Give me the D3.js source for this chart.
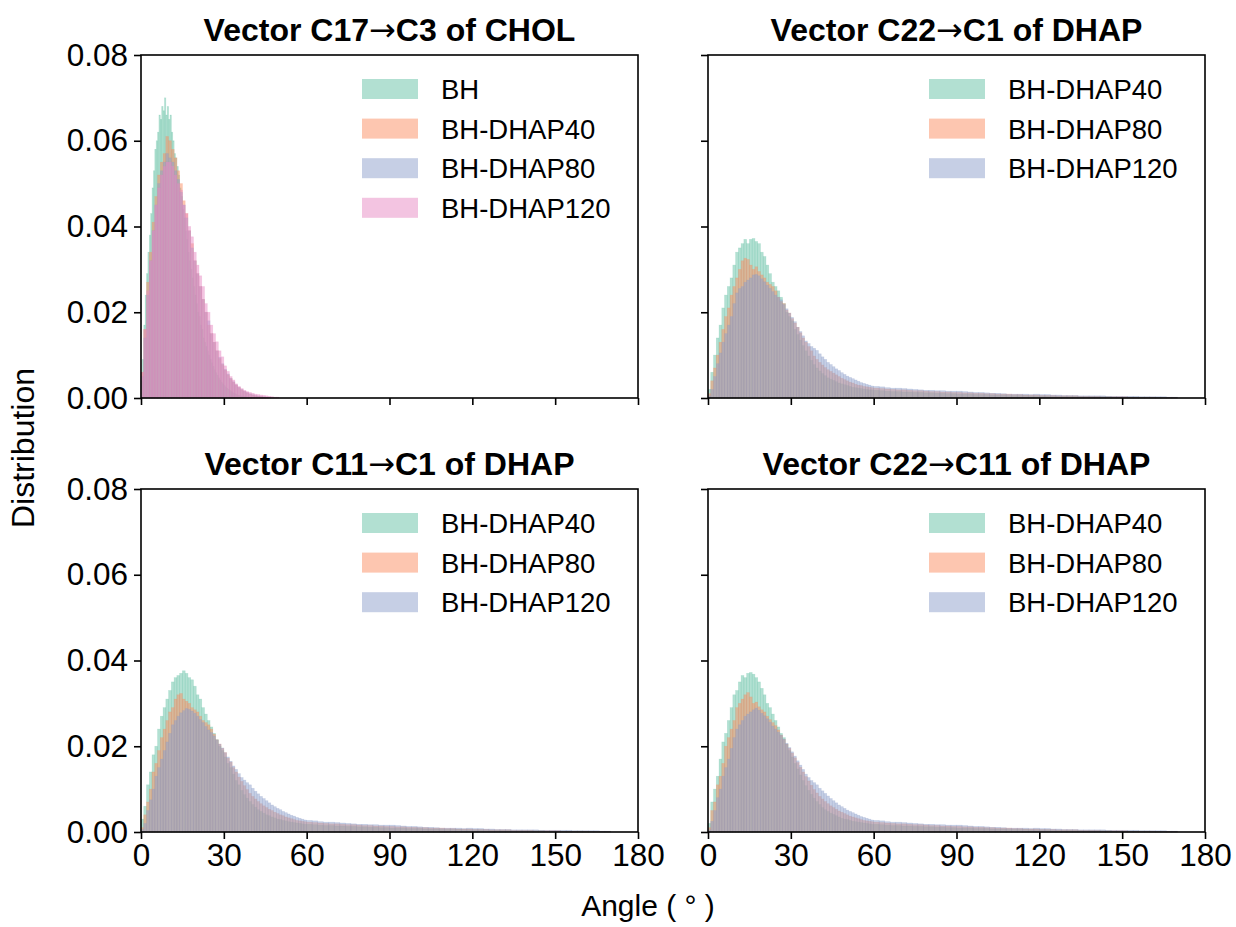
<!DOCTYPE html>
<html>
<head>
<meta charset="utf-8">
<script src="https://cdn.jsdelivr.net/npm/d3@7"></script>
<style>
body { margin: 0; background: #fff; }
text { font-family: "Liberation Sans", Arial, sans-serif; fill: #000; }
</style>
</head>
<body>
<svg id="chart" width="1236" height="927"></svg>
<script>
// ---- data ----
var xTicks = [0, 30, 60, 90, 120, 150, 180];
var yTicks = [0, 0.02, 0.04, 0.06, 0.08];
var cholLabels = ["BH", "BH-DHAP40", "BH-DHAP80", "BH-DHAP120"];
var dhapLabels = ["BH-DHAP40", "BH-DHAP80", "BH-DHAP120"];
// titles split round the arrow, so the arrow can use a font with a long one
var titleParts = [["Vector C17", "C3 of CHOL"], ["Vector C22", "C1 of DHAP"], ["Vector C11", "C1 of DHAP"], ["Vector C22", "C11 of DHAP"]];

// CHOL panel. BH uses 0.5 deg bins, the others 1 deg bins, all from 0
var cholBH = [.004,.009,.017,.024,.029,.034,.038,.043,.049,.053,.058,.060,.062,.066,.065,.068,.067,.070,.066,.068,
  .065,.066,.062,.060,.057,.056,.054,.052,.049,.047,.044,.042,.039,.037,.034,.032,.030,.028,.026,.024,
  .022,.020,.019,.017,.016,.014,.013,.012,.011,.010,.0090,.0082,.0074,.0066,.0059,.0053,.0047,.0042,.0037,.0033,
  .0029,.0026,.0023,.0020,.0018,.0015,.0013,.0011,.0010,.0008,.0007,.0006,.0005,.0004,.0003,.0003,.0002,.0002,.0001,.0001];
var cholDHAP40 = [.006,.016,.027,.034,.041,.047,.052,.055,.057,.061,.060,.058,.056,.053,.050,.046,.043,.039,.036,.032,
  .029,.026,.023,.020,.017,.015,.013,.011,.0092,.0078,.0065,.0054,.0045,.0037,.0030,.0024,.0019,.0015,.0012,.0009,
  .0007,.0005,.0004,.0003,.0002,.0001];
var cholDHAP80 = [.005,.014,.024,.032,.039,.045,.050,.053,.055,.057,.056,.055,.053,.051,.048,.045,.042,.039,.035,.032,
  .029,.026,.023,.020,.018,.015,.013,.011,.0095,.008,.0067,.0056,.0046,.0038,.0031,.0025,.002,.0016,.0013,.001,
  .0008,.0006,.0005,.0004,.0003,.0002,.0001];
var cholDHAP120 = [.006,.016,.025,.032,.039,.045,.049,.052,.054,.055,.055,.054,.052,.050,.0485,.045,.043,.040,.0376,.034,
  .031,.0285,.026,.022,.020,.017,.015,.0131,.011,.0096,.0075,.0062,.005,.0042,.0033,.0027,.0022,.0018,.0015,.0013,
  .0011,.0009,.0008,.0007,.0006,.0005,.0004,.0003,.0002,.0002];

// DHAP panels: 1 deg bins from 0 to 60 deg
var c22c1_40 = [.002,.006,.010,.014,.017,.021,.024,.026,.028,.031,.034,.035,.036,.037,.036,.037,.0372,.0365,.036,.034,
  .033,.031,.029,.027,.026,.025,.0235,.022,.020,.019,.018,.016,.0148,.0135,.0122,.011,.0098,.0088,.0078,.007,
  .0063,.0057,.0052,.0047,.0044,.0041,.0038,.0035,.0033,.0031,.0029,.0027,.0025,.0024,.0023,.0022,.0021,.002,.0019,.0019];
var c22c1_80 = [.001,.004,.007,.010,.013,.016,.019,.021,.024,.026,.028,.030,.032,.0326,.0323,.031,.030,.0306,.0295,.0287,
  .028,.027,.0265,.026,.025,.0235,.0225,.022,.0205,.0198,.0185,.0175,.0165,.0152,.014,.013,.012,.011,.0098,.009,
  .0083,.0077,.0071,.0066,.0062,.0058,.0054,.005,.0046,.0043,.004,.0037,.0035,.0032,.003,.0029,.0027,.0026,.0025,.0024];
var c22c1_120 = [.0005,.002,.005,.008,.0105,.013,.015,.017,.019,.022,.0245,.0255,.026,.027,.0275,.028,.0287,.0288,.0285,.0278,
  .0271,.0263,.0256,.0248,.024,.0235,.0229,.0218,.0208,.0198,.0188,.0178,.0165,.0155,.0145,.0133,.0127,.012,.0116,.0111,
  .0103,.0096,.009,.0083,.0078,.0073,.0068,.0064,.0059,.0055,.0051,.0048,.0045,.0042,.0039,.0036,.0034,.0032,.003,.0028];

var c11c1_40 = [.003,.006,.011,.014,.018,.020,.024,.027,.029,.031,.033,.035,.036,.0365,.037,.0376,.037,.036,.0355,.034,
  .032,.031,.029,.0275,.026,.0245,.023,.0215,.020,.019,.0175,.016,.015,.0135,.012,.011,.0097,.0087,.0079,.0071,
  .0064,.0058,.0052,.0048,.0044,.004,.0038,.0035,.0033,.003,.0029,.0027,.0026,.0024,.0023,.0022,.0021,.002,.0019,.0018];
var c11c1_80 = [.001,.004,.007,.010,.014,.016,.019,.022,.024,.026,.028,.029,.031,.032,.0323,.031,.0305,.030,.029,.0285,
  .028,.027,.026,.0255,.025,.024,.0228,.0215,.0205,.0195,.0185,.0172,.0163,.015,.014,.0128,.0118,.0108,.0099,.009,
  .0083,.0077,.0071,.0066,.0061,.0057,.0053,.005,.0046,.0043,.004,.0038,.0035,.0033,.0031,.0029,.0027,.0026,.0025,.0024];
var c11c1_120 = [.0006,.002,.005,.0075,.010,.013,.015,.017,.019,.021,.023,.025,.026,.027,.0278,.0283,.0288,.0286,.0282,.0277,
  .027,.0262,.0255,.0246,.0238,.0232,.0224,.0215,.0205,.0196,.0185,.0175,.0165,.0154,.0146,.0136,.0127,.0121,.0115,.011,
  .0102,.0095,.0089,.0083,.0078,.0073,.0068,.0063,.0059,.0055,.0052,.0048,.0045,.0042,.0039,.0037,.0034,.0032,.003,.0028];

var c22c11_40 = [.002,.007,.010,.013,.017,.021,.023,.026,.029,.032,.033,.035,.0365,.036,.037,.0372,.0368,.036,.035,.0335,
  .032,.030,.029,.0275,.026,.0245,.023,.022,.0205,.019,.0175,.016,.0147,.0133,.012,.0108,.0097,.0088,.0079,.0071,
  .0064,.0057,.0052,.0048,.0044,.0041,.0038,.0035,.0032,.003,.0029,.0027,.0025,.0024,.0023,.0022,.0021,.002,.0019,.0018];
var c22c11_80 = [.001,.005,.007,.011,.013,.016,.020,.022,.024,.026,.029,.030,.031,.032,.0325,.0315,.030,.0303,.0292,.0285,
  .028,.027,.0262,.0255,.0248,.0238,.0226,.0216,.0205,.0195,.0184,.0173,.0162,.0151,.014,.0129,.0119,.0109,.0099,.0091,
  .0083,.0077,.0071,.0066,.0061,.0057,.0053,.0049,.0046,.0043,.004,.0037,.0035,.0033,.0031,.0029,.0027,.0026,.0025,.0024];
var c22c11_120 = [.0005,.0025,.005,.008,.010,.013,.015,.017,.0195,.022,.024,.025,.026,.027,.0275,.028,.0285,.0289,.0284,.0277,
  .0271,.0264,.0256,.0247,.024,.0233,.0226,.0217,.0207,.0197,.0187,.0177,.0166,.0156,.0146,.0135,.0127,.012,.0115,.011,
  .0102,.0096,.009,.0084,.0078,.0073,.0068,.0063,.0059,.0055,.0051,.0048,.0045,.0042,.0039,.0036,.0034,.0032,.003,.0028];

// long tails, 2 deg bins from 60 to 170 deg (they look the same in all three DHAP panels)
var tail40 = [.0018,.0017,.0016,.0015,.0015,.0014,.0014,.0013,.0013,.0012,.0012,.0011,.0011,.0010,.0010,.0009,.0009,.0009,.0008,.0008,
  .0008,.0007,.0007,.0007,.0006,.0006,.0006,.0006,.0005,.0005,.0005,.0005,.0004,.0004,.0004,.0004,.0004,.0003,.0003,.0003,
  .0003,.0003,.0003,.0002,.0002,.0002,.0002,.0002,.0002,.0002,.0001,.0001,.0001,.0001,.0001];
var tail80 = [.0023,.0022,.0021,.002,.0019,.0019,.0018,.0017,.0017,.0016,.0015,.0015,.0014,.0014,.0013,.0013,.0012,.0012,.0011,.0011,
  .001,.001,.0009,.0009,.0009,.0008,.0008,.0007,.0007,.0007,.0006,.0006,.0006,.0005,.0005,.0005,.0005,.0004,.0004,.0004,
  .0004,.0003,.0003,.0003,.0003,.0003,.0002,.0002,.0002,.0002,.0002,.0001,.0001,.0001,.0001];
var tail120 = [.0027,.0026,.0024,.0023,.0023,.0022,.0021,.002,.0019,.0018,.0018,.0017,.0017,.0016,.0016,.0016,.0015,.0014,.0013,.0013,
  .0012,.0011,.0011,.001,.0009,.0009,.0009,.0009,.0008,.0009,.0008,.0008,.0007,.0007,.0006,.0006,.0006,.0005,.0005,.0005,
  .0005,.0005,.0004,.0004,.0004,.0004,.0004,.0004,.0003,.0003,.0003,.0003,.0003,.0002,.0002];

var palette = ["#66c2a5", "#fc8d62", "#8da0cb", "#e78ac3"];  // Set2

// turn a list of heights into bins
function toBins(vals, start, width) {
	return vals.map(function(v, i) {
		return { x0: start + i * width, x1: start + (i + 1) * width, v: v };
	});
}
function dhap(head, tail) {
	return toBins(head, 0, 1).concat(toBins(tail, 60, 2));
}

var panels = [
	{ title: titleParts[0], col: 0, row: 0, labels: cholLabels,
	  series: [toBins(cholBH, 0, 0.5), toBins(cholDHAP40, 0, 1), toBins(cholDHAP80, 0, 1), toBins(cholDHAP120, 0, 1)] },
	{ title: titleParts[1], col: 1, row: 0, labels: dhapLabels,
	  series: [dhap(c22c1_40, tail40), dhap(c22c1_80, tail80), dhap(c22c1_120, tail120)] },
	{ title: titleParts[2], col: 0, row: 1, labels: dhapLabels,
	  series: [dhap(c11c1_40, tail40), dhap(c11c1_80, tail80), dhap(c11c1_120, tail120)] },
	{ title: titleParts[3], col: 1, row: 1, labels: dhapLabels,
	  series: [dhap(c22c11_40, tail40), dhap(c22c11_80, tail80), dhap(c22c11_120, tail120)] }
];

// ---- layout ----
var colLeft = [141, 708], rowTop = [55, 489];
var pw = 497, ph = 343;

var svg = d3.select("#chart");

var x = d3.scaleLinear().domain([0, 180]).range([0, pw]);
var y = d3.scaleLinear().domain([0, 0.08]).range([ph, 0]);

panels.forEach(function(p) {
	var g = svg.append("g")
		.attr("transform", "translate(" + colLeft[p.col] + "," + rowTop[p.row] + ")");

	// bars, first series at the back
	p.series.forEach(function(bins, si) {
		g.append("g").selectAll("rect")
			.data(bins)
			.enter().append("rect")
			.attr("x", function(d) { return x(d.x0); })
			.attr("width", function(d) { return x(d.x1) - x(d.x0); })
			.attr("y", function(d) { return y(d.v); })
			.attr("height", function(d) { return y(0) - y(d.v); })
			.style("fill", palette[si])
			.style("fill-opacity", 0.5)
			.style("stroke", palette[si])
			.style("stroke-opacity", 0.3)
			.style("stroke-width", 0.6);
	});

	// axes
	var xa = d3.axisBottom(x).tickValues(xTicks).tickSize(7).tickPadding(5);
	if (p.row === 0) xa.tickFormat("");
	var ya = d3.axisLeft(y).tickValues(yTicks).tickSize(7).tickPadding(6).tickFormat(d3.format(".2f"));
	if (p.col === 1) ya.tickFormat("");

	g.append("g").attr("transform", "translate(0," + ph + ")").call(xa);
	g.append("g").call(ya);
	g.selectAll(".domain").remove();
	g.selectAll(".tick line").style("stroke", "#000").style("stroke-width", 1.6);
	g.selectAll(".tick text").style("font-size", "31.5px").style("font-family", "Liberation Sans, Arial, sans-serif").style("fill", "#000");

	// frame
	g.append("rect")
		.attr("width", pw).attr("height", ph)
		.style("fill", "none").style("stroke", "#000").style("stroke-width", 1.6);

	// title
	var t = g.append("text")
		.attr("x", pw / 2).attr("y", -14)
		.attr("text-anchor", "middle")
		.style("font-size", "32px").style("font-weight", "bold");
	t.append("tspan").text(p.title[0]);
	t.append("tspan").style("font-family", "DejaVu Sans").style("font-weight", "normal").text("\u2192");
	t.append("tspan").text(p.title[1]);

	// legend, upper right
	var lg = g.append("g");
	p.labels.forEach(function(lab, i) {
		var cy = 34 + i * 39.6;
		lg.append("rect")
			.attr("x", 221).attr("y", cy - 10)
			.attr("width", 56).attr("height", 20)
			.style("fill", palette[i]).style("fill-opacity", 0.5);
		lg.append("text")
			.attr("x", 300).attr("y", cy + 10)
			.style("font-size", "27.5px")
			.text(lab);
	});
});

// shared axis labels
svg.append("text")
	.attr("transform", "translate(34,448) rotate(-90)")
	.attr("text-anchor", "middle")
	.style("font-size", "32px")
	.text("Distribution");

svg.append("text")
	.attr("x", 648).attr("y", 916)
	.attr("text-anchor", "middle")
	.style("font-size", "30px")
	.text("Angle ( \u00b0 )");
</script>
</body>
</html>
